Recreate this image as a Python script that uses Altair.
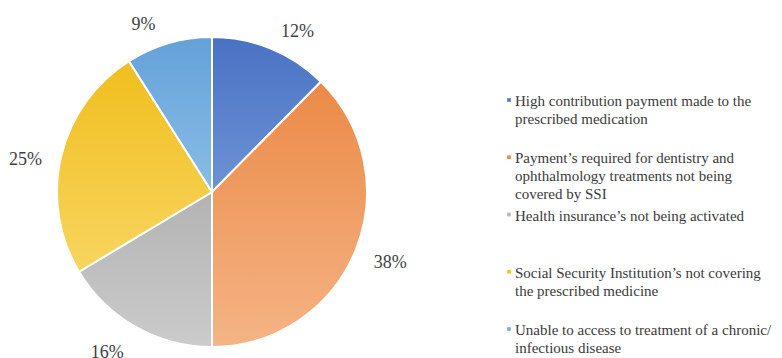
import altair as alt
import pandas as pd

categories = [
    "High contribution payment made to the prescribed medication",
    "Payment’s required for dentistry and ophthalmology treatments not being covered by SSI",
    "Health insurance’s not being activated",
    "Social Security Institution’s not covering the prescribed medicine",
    "Unable to access to treatment of a chronic/infectious disease",
]
# slice sizes (labels show them rounded)
values = [12.4, 37.6, 16.4, 24.6, 9.0]
label_values = [12, 38, 16, 25, 9]
grad_top = ["#4a72c4", "#eb8a47", "#b3b3b3", "#f0be1e", "#64a1d9"]
grad_bottom = ["#6d92d5", "#f5b485", "#cbcbcb", "#f8d55f", "#8abde6"]
marker_colors = ["#5a7cc8", "#ee8c50", "#b8b8b8", "#f5c41e", "#7fb0dc"]
legend_lines = [
    ["High contribution payment made to the", "prescribed medication"],
    ["Payment’s required for dentistry and", "ophthalmology treatments not being", "covered by SSI"],
    ["Health insurance’s not being activated"],
    ["Social Security Institution’s not covering", "the prescribed medicine"],
    ["Unable to access to treatment of a chronic/", "infectious disease"],
]

pie_df = pd.DataFrame({
    "idx": list(range(len(values))),
    "category": categories,
    "value": values,
    "label": label_values,
})

rows = []
for i, lines in enumerate(legend_lines):
    for j, t in enumerate(lines):
        rows.append({"item": i, "line": j, "text": t, "category": categories[i]})
leg_df = pd.DataFrame(rows)

CX, CY, R = 204, 184, 155
AX, BX = 170, 21
AY, TOPDY, BOTDY = 185, 11, 0.5

base = alt.Chart(pie_df).transform_window(
    cum="sum(value)", sort=[alt.SortField("idx")], frame=[None, 0]
).transform_calculate(
    t0="(datum.cum - datum.value)/100*2*PI",
    t1="datum.cum/100*2*PI",
)

layers = []
for i in range(len(values)):
    grad = alt.Gradient(
        gradient="linear", x1=0, y1=0, x2=0, y2=1,
        stops=[alt.GradientStop(color=grad_top[i], offset=0),
               alt.GradientStop(color=grad_bottom[i], offset=1)],
    )
    layers.append(
        base.transform_filter(f"datum.idx == {i}").mark_arc(
            radius=R, stroke="white", strokeWidth=2, fill=grad
        ).encode(
            theta=alt.Theta("t0:Q", scale=None),
            theta2="t1:Q",
            x=alt.value(CX),
            y=alt.value(CY),
        )
    )

labels = base.transform_calculate(
    mid="(datum.t0 + datum.t1)/2",
    ux="sin(datum.mid)",
    uy="-cos(datum.mid)",
    lx=f"{CX} + {AX}*datum.ux + (datum.ux >= 0 ? {BX} : -{BX})",
    ly=f"{CY} + {AY}*datum.uy + (datum.uy >= 0 ? {BOTDY} : {TOPDY})",
    lab="datum.label + '%'",
).mark_text(font="Liberation Serif", fontSize=18, color="#404040", baseline="middle", align="center").encode(
    x=alt.X("lx:Q", scale=None),
    y=alt.Y("ly:Q", scale=None),
    text="lab:N",
)

leg_text = alt.Chart(leg_df).transform_calculate(
    ty="93 + 57.25*datum.item + 17.8*datum.line",
    tx="507",
).mark_text(font="Liberation Serif", fontSize=15, color="#3a3a3a", baseline="middle", align="left").encode(
    x=alt.X("tx:Q", scale=None),
    y=alt.Y("ty:Q", scale=None),
    text="text:N",
)

leg_marks = alt.Chart(leg_df).transform_filter("datum.line == 0").transform_calculate(
    ty="92 + 57.25*datum.item",
    tx="501",
).mark_square(size=14, opacity=1).encode(
    x=alt.X("tx:Q", scale=None),
    y=alt.Y("ty:Q", scale=None),
    color=alt.Color("category:N", scale=alt.Scale(domain=categories, range=marker_colors), legend=None),
)

chart = alt.layer(*layers, labels, leg_text, leg_marks).properties(
    width=766, height=350, padding=0, autosize="none", background="white"
).configure_view(stroke=None)

chart.save("out.html", embed_options={"renderer": "svg", "actions": False})
